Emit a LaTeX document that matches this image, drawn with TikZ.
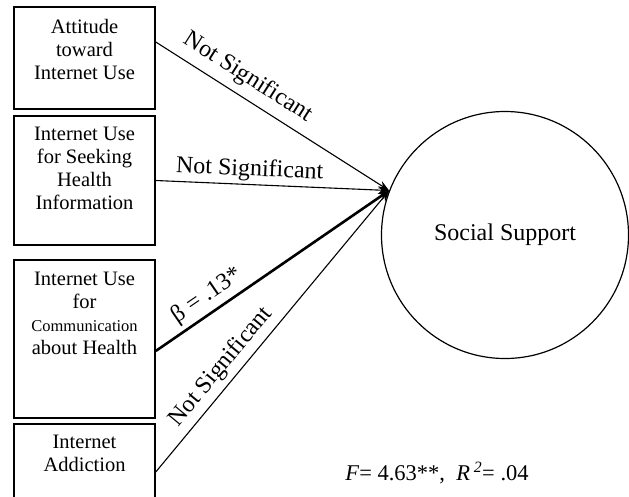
\documentclass[tikz,border=0pt]{standalone}
\usepackage{fontspec}
\setmainfont{Liberation Serif}
\usetikzlibrary{arrows.meta}
\begin{document}
\begin{tikzpicture}[x=1pt,y=-1pt,
  box/.style={draw, line width=1.5pt, minimum width=141pt, inner sep=0pt},
  boxtext/.style={anchor=north, align=center, inner sep=0pt, font=\fontsize{20.5}{23}\selectfont},
  conn/.style={line width=1.1pt, -{Stealth[length=11pt,width=8pt]}},
  lbl/.style={font=\fontsize{24}{28}\selectfont, sloped, inner sep=3pt}]
\useasboundingbox (0,0) rectangle (629,496);
\clip (0,0) rectangle (629,496);

\node[box, minimum height=102pt] (b1) at (84.5,58) {};
\node[boxtext] (t1) at ([yshift=-13pt]b1.north) {Attitude\\toward\\Internet Use};

\node[box, minimum height=129pt] (b2) at (84.5,180.5) {};
\node[boxtext] (t2) at ([yshift=-12pt]b2.north) {Internet Use\\for Seeking\\Health\\Information};

\node[box, minimum height=158pt] (b3) at (84.5,339) {};
\node[boxtext] (t3) at ([yshift=-13pt]b3.north) {Internet Use\\for\\{\fontsize{16.5}{19}\selectfont Communication}\\about Health};

\node[box, minimum height=120pt] (b4) at (84.5,484) {};
\node[boxtext] (t4) at ([yshift=-12pt]b4.north) {Internet\\Addiction};

\node[draw, circle, line width=1.2pt, minimum size=247pt, inner sep=0pt,
  font=\fontsize{24}{28}\selectfont] (ss) at (505,235) {Social Support};

\draw[conn] ([yshift=16pt]b1.east) -- node[lbl, above=5pt, pos=0.35] {Not Significant} (ss.159);
\draw[conn] (b2.east) -- node[lbl, above, pos=0.4] {Not Significant} (ss.159);
\draw[conn, line width=2.6pt] ([yshift=-12pt]b3.east) -- node[lbl, above=1pt, pos=0.26] {β = .13*} (ss.159);
\draw[conn] ([yshift=12pt]b4.east) -- node[lbl, above=2pt, pos=0.335] {Not Significant} (ss.159);

\node[font=\fontsize{22.5}{26}\selectfont] (stat) at (437,473)
  {\textit{F}= 4.63**,\enspace\textit{R}\,\textsuperscript{\textit{2}}= .04};
\end{tikzpicture}
\end{document}
